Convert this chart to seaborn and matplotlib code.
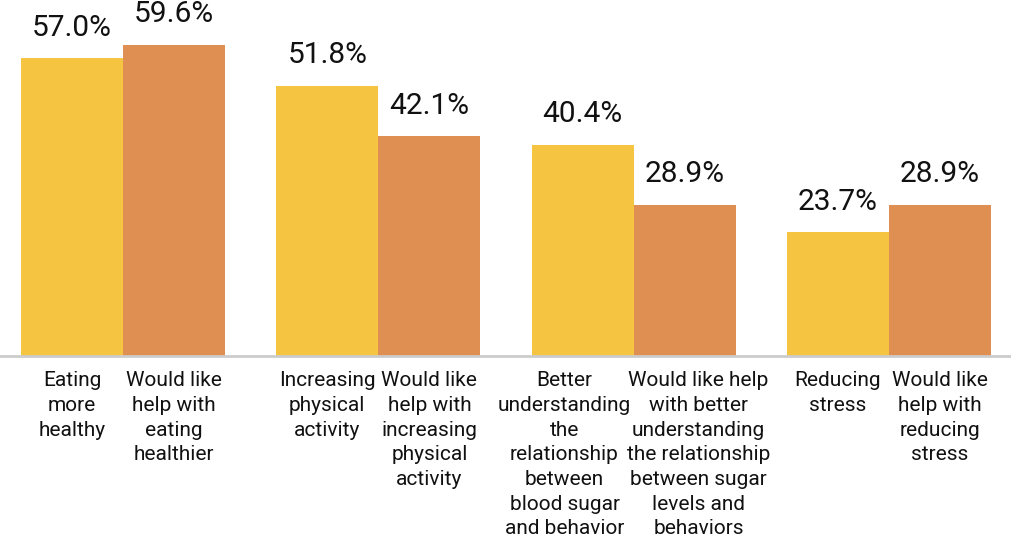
import matplotlib
matplotlib.use("Agg")
import matplotlib.pyplot as plt
import seaborn as sns
import pandas as pd

# Survey results: current behaviour vs. desire for help, per topic
topics = ["Eating", "Activity", "Blood sugar", "Stress"]
series = ["Doing", "Want help"]
doing_pct = [57.0, 51.8, 40.4, 23.7]
help_pct = [59.6, 42.1, 28.9, 28.9]
bar_labels = [
    ["Eating\nmore\nhealthy",
     "Would like\nhelp with\neating\nhealthier"],
    ["Increasing\nphysical\nactivity",
     "Would like\nhelp with\nincreasing\nphysical\nactivity"],
    ["Better\nunderstanding\nthe\nrelationship\nbetween\nblood sugar\nand behavior",
     "Would like help\nwith better\nunderstanding\nthe relationship\nbetween sugar\nlevels and\nbehaviors"],
    ["Reducing\nstress",
     "Would like\nhelp with\nreducing\nstress"],
]
colors = ["#F5C542", "#E08F52"]

# horizontal nudge (points) for the long labels so neighbours don't collide
label_nudge = [[0, 0], [0, 0], [-13, 10], [0, 0]]

df = pd.DataFrame({
    "topic": topics * 2,
    "series": [series[0]] * len(topics) + [series[1]] * len(topics),
    "pct": doing_pct + help_pct,
})

sns.set_theme(style="white")
plt.rcParams["font.family"] = ["Roboto", "DejaVu Sans"]

fig = plt.figure(figsize=(10.11, 5.39), dpi=100)
ax = fig.add_axes([0.0, 0.3395, 1.0, 0.6605])

sns.barplot(data=df, x="topic", y="pct", hue="series", order=topics,
            hue_order=series, palette=colors, width=0.8, dodge=True,
            saturation=1, linewidth=0, ax=ax, legend=False)

ax.set_xlim(-0.482, 3.478)
ax.set_ylim(0, 68.2)
for s in ["top", "right", "left"]:
    ax.spines[s].set_visible(False)
ax.spines["bottom"].set_color("#cccccc")
ax.spines["bottom"].set_linewidth(2)
ax.set_xticks([])
ax.set_yticks([])
ax.set_xlabel("")
ax.set_ylabel("")

# Value labels above bars and wrapped category text below them
for si, container in enumerate(ax.containers):
    for ti, bar in enumerate(container):
        cx = bar.get_x() + bar.get_width() / 2
        h = bar.get_height()
        ax.annotate(f"{h:.1f}%", (cx, h), xytext=(0, 12),
                    textcoords="offset points", ha="center", va="bottom",
                    fontsize=21.5, color="#111111")
        ax.annotate(bar_labels[ti][si], (cx, 0),
                    xytext=(label_nudge[ti][si], -11),
                    textcoords="offset points", ha="center", va="top",
                    multialignment="center",
                    fontsize=15, color="#111111", linespacing=1.38,
                    annotation_clip=False)

fig.savefig("out.png", dpi=100, facecolor="white")
